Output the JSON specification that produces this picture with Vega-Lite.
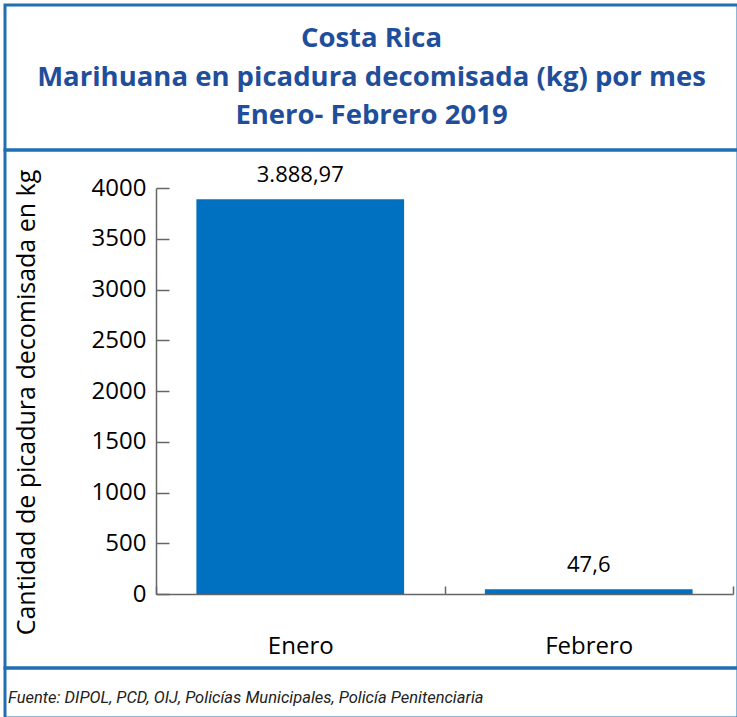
{
  "$schema": "https://vega.github.io/schema/vega-lite/v6.json",
  "padding": {"left": 3, "top": 3, "right": 0, "bottom": 0},
  "bounds": "flush",
  "spacing": 0,
  "config": {
    "locale": {"number": {"decimal": ",", "thousands": ".", "grouping": [3], "currency": ["", ""]}},
    "axis": {"labelFont": "Open Sans", "titleFont": "Open Sans", "labelColor": "#000000", "titleColor": "#000000"}
  },
  "vconcat": [
    {
      "width": 733,
      "height": 145,
      "view": {"stroke": "#1F6FB2", "strokeWidth": 3},
      "data": {"values": [
        {"linea": "Costa Rica"},
        {"linea": "Marihuana en picadura decomisada (kg) por mes"},
        {"linea": "Enero- Febrero 2019"}
      ]},
      "mark": {"type": "text", "font": "Open Sans", "fontWeight": "bold", "fontSize": 27.5, "color": "#1F4E9B", "baseline": "middle"},
      "encoding": {
        "y": {"field": "linea", "type": "ordinal", "sort": null, "axis": null, "scale": {"padding": 0.86}},
        "text": {"field": "linea"}
      }
    },
    {
      "width": 733,
      "height": 518,
      "view": {"stroke": "#1F6FB2", "strokeWidth": 3},
      "data": {"values": [
        {"mes": "Enero", "kg": 3888.97},
        {"mes": "Febrero", "kg": 47.6}
      ]},
      "encoding": {
        "x": {
          "field": "mes", "type": "nominal", "sort": null,
          "scale": {"range": [151, 728], "paddingInner": 0, "paddingOuter": 0},
          "axis": {"title": null, "labelAngle": 0, "offset": -74, "domainColor": "#666666", "tickColor": "#666666", "domainWidth": 1.5, "tickWidth": 1.5, "tickBand": "extent", "tickSize": -8, "labelPadding": 48, "labelFontSize": 24}
        },
        "y": {
          "field": "kg", "type": "quantitative",
          "scale": {"domain": [0, 4000], "range": [444, 38], "nice": false},
          "axis": {"title": "Cantidad de picadura decomisada en kg", "offset": -151, "values": [0, 500, 1000, 1500, 2000, 2500, 3000, 3500, 4000], "format": "d", "grid": false, "domainColor": "#666666", "tickColor": "#666666", "domainWidth": 1.5, "tickWidth": 1.5, "tickSize": -13, "labelPadding": 23, "labelFontSize": 24, "titleFontSize": 25, "titleFontWeight": "normal", "titlePadding": 52, "titleY": 252}
        }
      },
      "layer": [
        {"mark": {"type": "bar", "color": "#0070C0", "width": {"band": 0.72}}},
        {
          "mark": {"type": "text", "baseline": "alphabetic", "dy": -17, "fontSize": 22, "font": "Open Sans", "color": "#000000"},
          "encoding": {"text": {"field": "kg", "type": "quantitative", "format": ",.2~f"}}
        }
      ]
    },
    {
      "width": 733,
      "height": 50,
      "view": {"stroke": "#1F6FB2", "strokeWidth": 3},
      "title": {"text": "Fuente: DIPOL, PCD, OIJ, Policías Municipales, Policía Penitenciaria", "orient": "top", "anchor": "start", "offset": -38, "dx": 3, "font": "Roboto", "fontStyle": "italic", "fontWeight": "normal", "fontSize": 16.5, "color": "#222222"},
      "data": {"values": [{}]},
      "mark": {"type": "point", "opacity": 0},
      "encoding": {}
    }
  ]
}
